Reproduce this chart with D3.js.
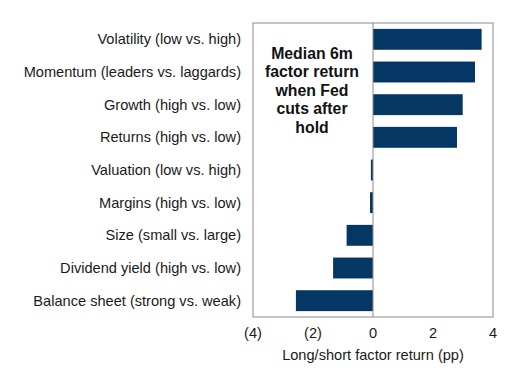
<!DOCTYPE html>
<html>
<head>
<meta charset="utf-8">
<script src="https://cdn.jsdelivr.net/npm/d3@7"></script>
<style>
  body { margin: 0; background: #fff; }
  svg text { font-family: "Liberation Sans", Arial, sans-serif; }
</style>
</head>
<body>
<svg id="chart" width="524" height="375"></svg>
<script>
// factor labels and median 6m returns (pp)
const factors = [
    "Volatility (low vs. high)",
    "Momentum (leaders vs. laggards)",
    "Growth (high vs. low)",
    "Returns (high vs. low)",
    "Valuation (low vs. high)",
    "Margins (high vs. low)",
    "Size (small vs. large)",
    "Dividend yield (high vs. low)",
    "Balance sheet (strong vs. weak)"
];
const returns = [3.62, 3.4, 2.99, 2.8, -0.07, -0.1, -0.88, -1.33, -2.57];
const xTicks = [-4, -2, 0, 2, 4];
const noteLines = ["Median 6m", "factor return", "when Fed", "cuts after", "hold"];

const data = factors.map((f, i) => ({ name: f, value: returns[i] }));

const svg = d3.select("#chart");
const plotLeft = 253, plotRight = 493, plotTop = 23, plotBottom = 317;

const x = d3.scaleLinear().domain([-4, 4]).range([plotLeft, plotRight]);
const y = d3.scaleBand().domain(factors).range([plotTop, plotBottom]).paddingInner(0.36).paddingOuter(0.18);

// bars
svg.append("g")
    .selectAll("rect")
    .data(data)
    .enter()
    .append("rect")
    .attr("x", d => x(Math.min(0, d.value)))
    .attr("width", d => Math.abs(x(d.value) - x(0)))
    .attr("y", d => y(d.name))
    .attr("height", y.bandwidth())
    .attr("fill", "#043763");

// plot frame
svg.append("rect")
    .attr("x", plotLeft).attr("y", plotTop)
    .attr("width", plotRight - plotLeft).attr("height", plotBottom - plotTop)
    .attr("fill", "none")
    .attr("stroke", "#8c8c8c")
    .attr("stroke-width", 1);

// zero line
svg.append("line")
    .attr("x1", x(0)).attr("x2", x(0))
    .attr("y1", plotTop).attr("y2", plotBottom)
    .attr("stroke", "#8c8c8c");

// category labels
svg.append("g")
    .selectAll("text")
    .data(factors)
    .enter()
    .append("text")
    .attr("x", 241)
    .attr("y", d => y(d) + y.bandwidth() / 2)
    .attr("dy", "0.35em")
    .attr("text-anchor", "end")
    .attr("font-size", 14.6)
    .attr("fill", "#1a1a1a")
    .text(d => d);

// x axis tick labels
const fmt = v => v < 0 ? "(" + Math.abs(v) + ")" : String(v);
svg.append("g")
    .selectAll("text")
    .data(xTicks)
    .enter()
    .append("text")
    .attr("x", d => x(d))
    .attr("y", 333)
    .attr("dy", "0.35em")
    .attr("text-anchor", "middle")
    .attr("font-size", 14.6)
    .attr("fill", "#1a1a1a")
    .text(fmt);

svg.append("text")
    .attr("x", x(0))
    .attr("y", 355)
    .attr("dy", "0.35em")
    .attr("text-anchor", "middle")
    .attr("font-size", 14.6)
    .attr("fill", "#1a1a1a")
    .text("Long/short factor return (pp)");

// annotation
svg.append("g")
    .selectAll("text")
    .data(noteLines)
    .enter()
    .append("text")
    .attr("x", 312)
    .attr("y", (d, i) => 53 + i * 18.5)
    .attr("dy", "0.35em")
    .attr("text-anchor", "middle")
    .attr("font-size", 15.8)
    .attr("font-weight", "bold")
    .attr("fill", "#111")
    .text(d => d);
</script>
</body>
</html>
